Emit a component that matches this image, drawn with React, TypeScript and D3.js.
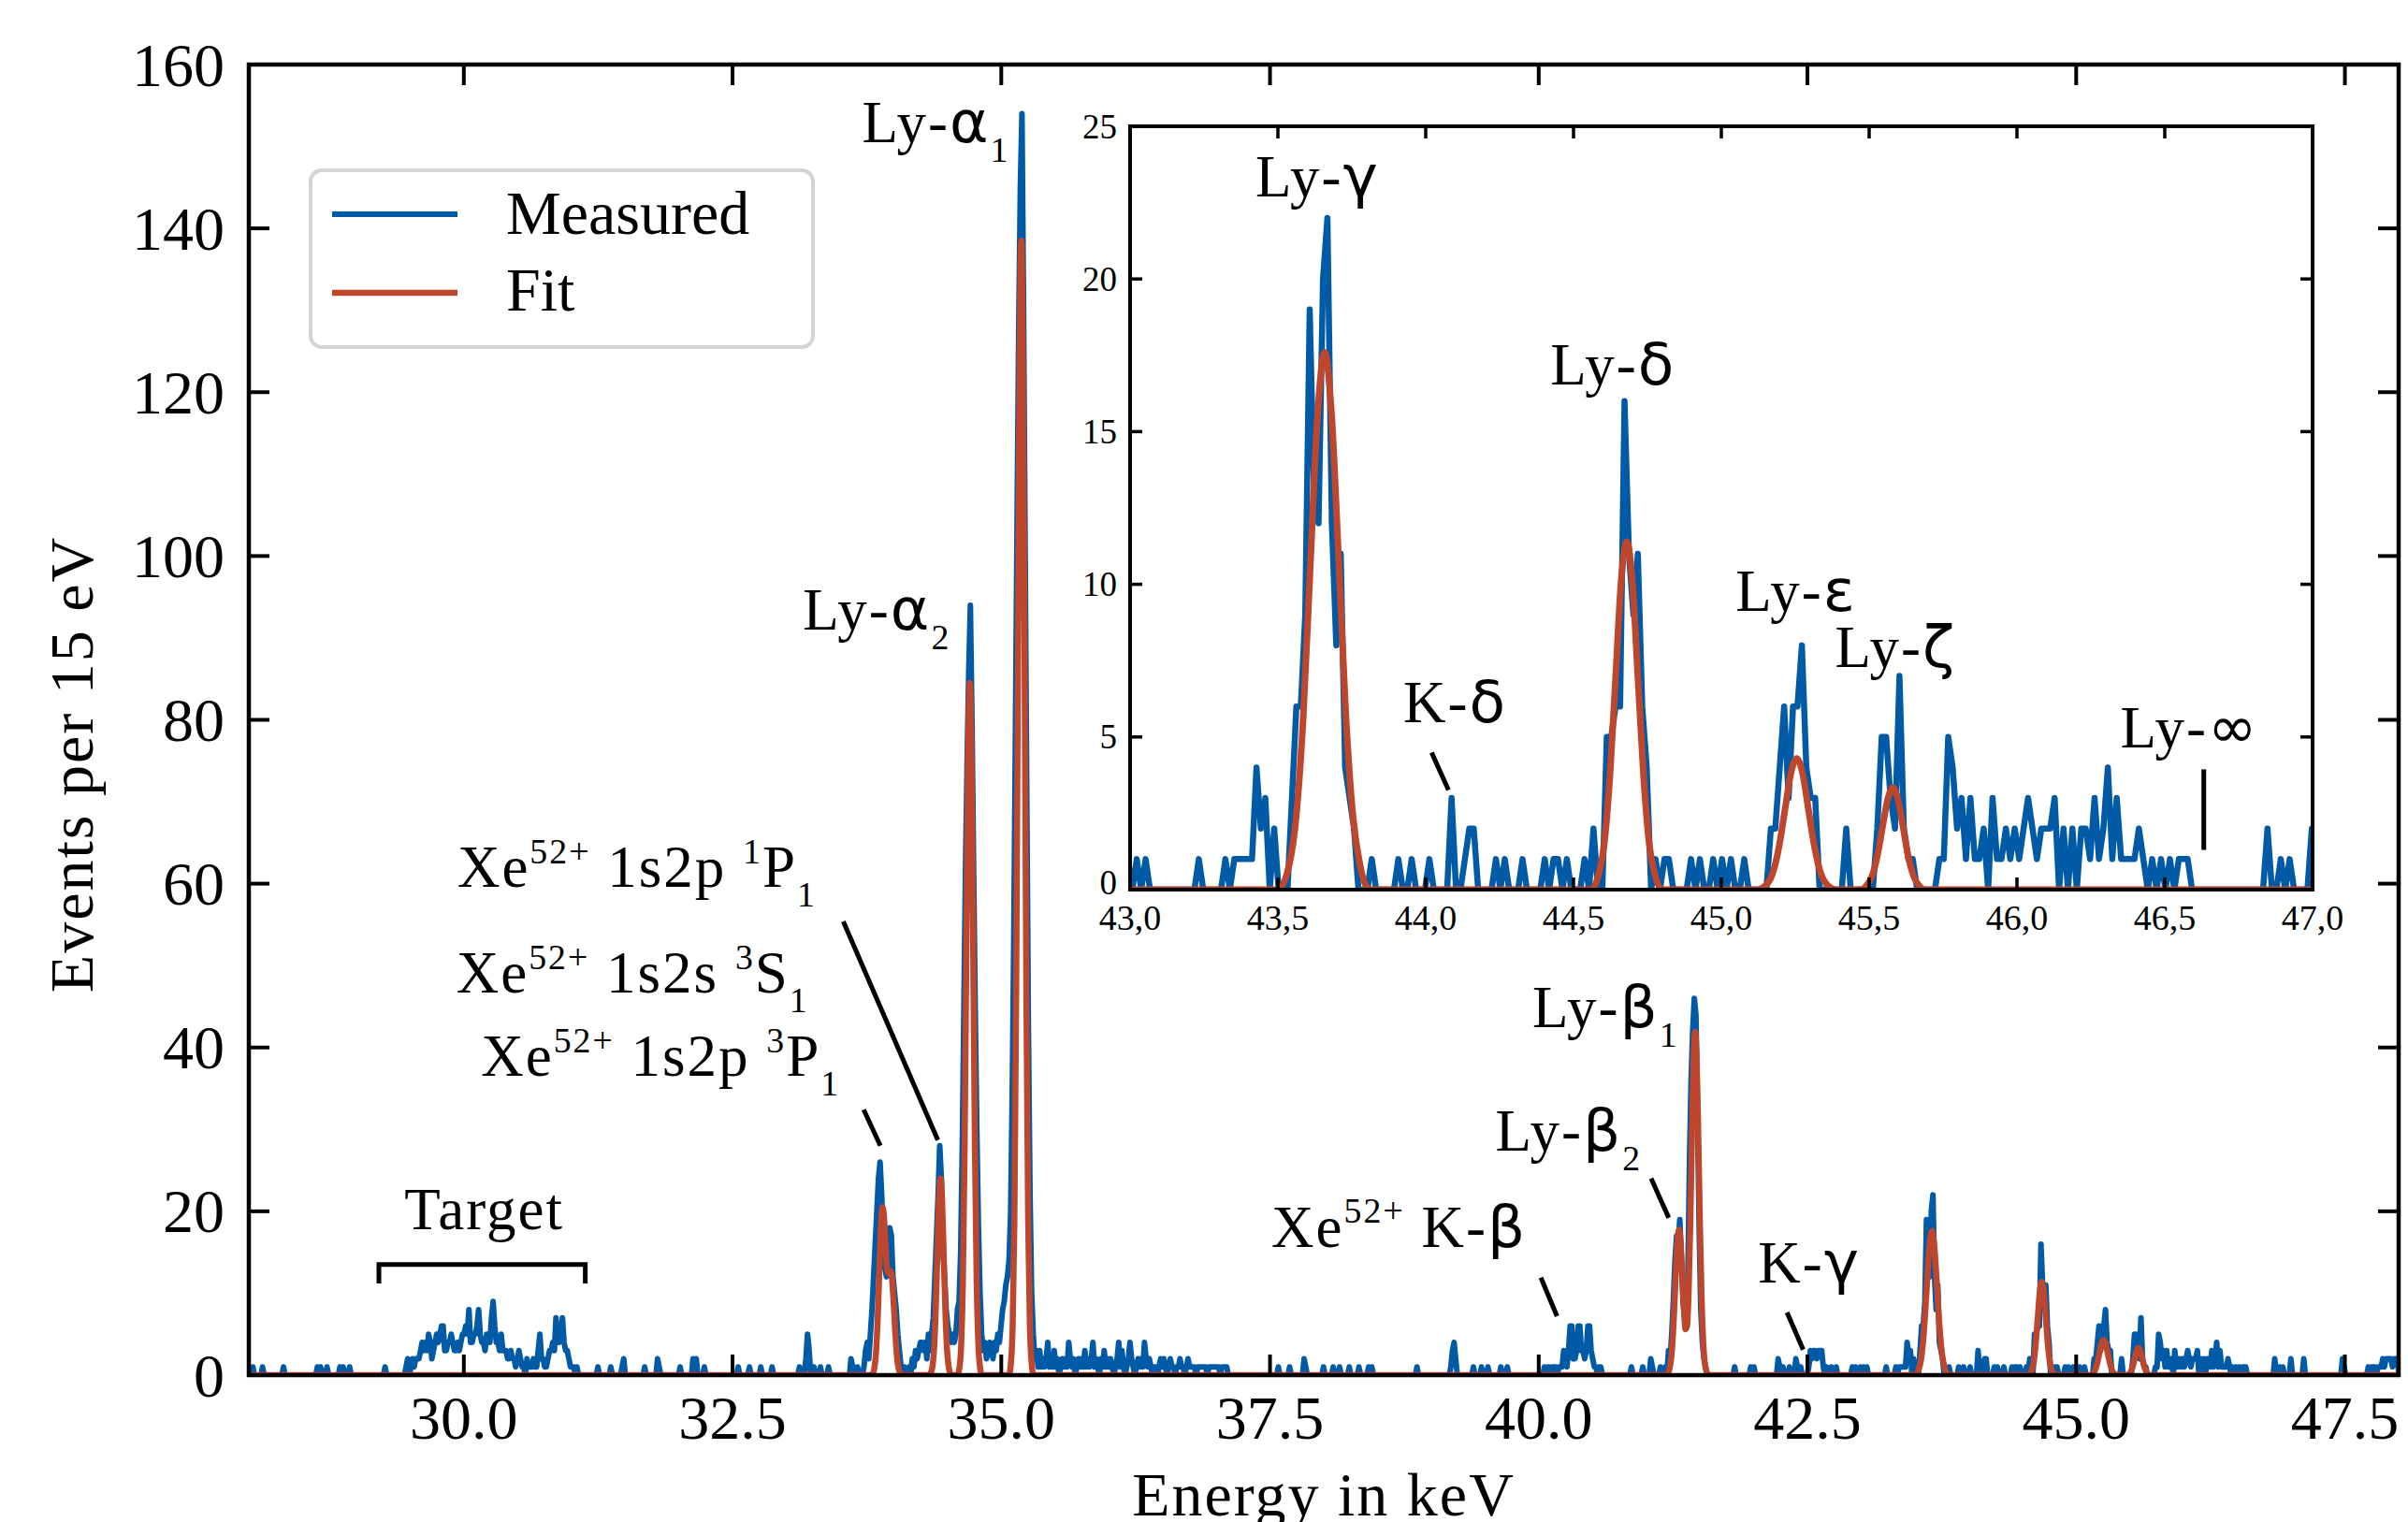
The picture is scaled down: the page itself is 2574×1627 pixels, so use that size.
import React from "react";
import * as d3 from "d3";

const W = 2574;
const H = 1627;
const SERIF = "'Liberation Serif', 'Times New Roman', Times, serif";
const GREEK = "'DejaVu Sans', sans-serif";
const BLUE = "#005aa5";
const RED = "#be462d";

// histogram: 15 eV bins starting at 28 keV
const BIN_ORIGIN = 28;
const BIN_WIDTH = 0.015;
const BIN_COUNT = 1334;

// runs of consecutive bins: [energy of first bin, counts]
const targetRun: [number, number[]] = [29.46, [1,2,0,1,2,1,2,2,2,3,4,3,4,3,5,4,2,3,4,5,4,5,6,6,3,3,4,4,5,4,3,3,4,3,4,5,5,6,5,8,4,4,5,5,6,8,5,4,4,3,5,5,4,7,9,6,4,4,3,5,3,3,3,2,2,3,2,2,1,2,3,2,1,1,0,2,1,1,1,2,1,1,3,5,2,2,1,1,2,3,3,4,3,7,4,4,5,7,4,3,3,2,1,1,1,0,1]];
const heliumAlphaRun: [number, number[]] = [33.705, [0,1,3,4,2,5,8,12,16,20,24,26,22,16,13,12,16,18,17,12,10,8,5,3,1,0,1,0,0,1,0,2,1,3,2,3,4,4,3,4,2,5,3,5,7,12,17,22,28,24,15,12,8,6,5,4,5,4,5,8,9,15,28,45,62,75,86,94,80,62,45,30,18,10,5,3,4,2,3,4,3,2,4,3,5,4,6,8,9,11,12,14,20,35,55,80,105,128,145,154,130,100,70,42,22,10,5,2,3]];
const tailRun: [number, number[]] = [35.34, [1,3,1,2,1,2,4,1,2,1,3,1,2,0,1,2,1,2,1,4,2,1,2,0,1,2,1,2,1,3,1,2,1,2,4,1,2,1,0,2,1,3,1,2,1,2,1,0,1,2,4,1,3,1,0,1,2,4,2,1,0,1,2,1,2,1,4,2,1,2,1,0,1,1,0,1,2,1,2,1,0,1,2,1,1,0,1,1,2,1,1,0,1,2,1,1,1,1,0,1,1,1,1,1,1,0,1,1,1,1,1,1,1,0,1,1,1,1,0]];
const kBetaRun: [number, number[]] = [40.05, [1,0,1,1,0,1,1,1,0,1,1,1,3,2,1,3,6,6,2,2,3,6,6,3,3,2,3,6,6,3,2,1,1,0,1,1,0]];
const lyBetaRun: [number, number[]] = [41.17, [1,0,3,2,5,9,14,17,16,19,14,9,7,6,12,26,36,42,46,44,32,18,8,4,2,1,0]];
const kGammaRun: [number, number[]] = [42.51, [1,3,2,3,3,2,3,3,3,1,0,1]];
const lyGammaRun: [number, number[]] = [43.3225, [1,0,1,1,1,1,1,4,2,3,0,2,0,0,0,3,6,6,9,19,13,12,20,22,12,8,11,4,3,2,0]];
const kDeltaRun: [number, number[]] = [44.0925, [3,0,0,1,2,2,0]];
const preDeltaRun: [number, number[]] = [44.4075, [1,0,1,1,0,1]];
const lyDeltaRun: [number, number[]] = [44.5375, [1,0,2,0,0,5,5,6,6,16,11,9,11,6,4,0]];
const lyEpsilonRun: [number, number[]] = [45.1575, [0,2,2,4,6,3,6,6,8,4,3,3,0]];
const lyZetaRun: [number, number[]] = [45.5175, [0,2,5,5,3,2,7,2,1,1,0]];
const seriesLimitRun: [number, number[]] = [45.7275, [0,1,1,5,4,2,3,1,3,1,1,2,0,3,1,1,2,1,2,1,2,3,2,1,2,2,2,3,0,2,0,2,0,2,2,1,3,1,2,4,1,3,1,1,1,1,2,1,0,1,0,1,0,1,0,1,1,1,0]];
const highEndRun: [number, number[]] = [47.72, [1,0,1,1,1,0,1,1,1,2,1,2,2,2,2,1,2,2,2]];

const measuredRuns = [
  targetRun, heliumAlphaRun, tailRun, kBetaRun, lyBetaRun, kGammaRun, lyGammaRun,
  kDeltaRun, preDeltaRun, lyDeltaRun, lyEpsilonRun, lyZetaRun, seriesLimitRun, highEndRun,
];

// single non-empty bins: [energy, counts]
const measuredSpikes: [number, number][] = [
  [28.01,1],[28.04,1],[28.125,1],[28.32,1],[28.63,1],[28.66,1],[28.725,1],[28.84,1],[28.87,1],[28.94,1],[29.27,1],
  [31.25,1],[31.37,1],[31.47,1],[31.485,2],[31.68,1],[31.795,2],[31.81,1],[32.01,1],[32.125,2],[32.14,1],[32.165,2],
  [32.24,1],[32.55,1],[32.65,1],[32.765,1],[32.865,1],[33.115,1],[33.175,2],[33.19,5],[33.205,3],[33.25,1],[33.31,1],
  [33.385,1],[33.6,2],[33.615,1],[33.66,1],
  [37.57,1],[37.68,1],[37.815,2],[37.83,1],[37.99,1],[38.08,1],[38.14,1],[38.24,1],[38.33,1],[38.42,1],[38.45,1],
  [38.86,1],[39.185,1],[39.2,3],[39.215,4],[39.23,2],[39.39,1],[39.46,1],[39.53,1],[39.64,1],[39.71,1],
  [40.86,1],[40.97,1],[41.04,2],[41.055,1],[41.13,1],
  [41.825,1],[41.97,1],[42.0,1],[42.225,2],[42.24,1],[42.27,1],[42.33,1],[42.39,2],[42.405,1],[42.435,1],
  [42.72,1],[42.77,1],[42.91,1],[42.95,1],[42.99,1],
  [43.0225,1],[43.0525,1],[43.2375,1],[43.8175,1],[43.9075,1],[43.9525,1],[44.0125,1],
  [44.2425,1],[44.2725,1],[44.3325,1],
  [44.7775,1],[44.8075,1],[44.8225,1],[44.9025,1],[44.9325,1],[44.9775,1],[45.0075,1],[45.0375,1],[45.0825,1],
  [45.4175,2],[46.8525,2],[46.8975,1],[46.9275,1],
  [47.0,2],[47.12,2],[47.48,2],[47.495,1],
];

// fit curve: [energy, counts]
const fitPoints: [number, number][] = [
  [28, 0],
  [33.785,0],[33.805,0.2],[33.82,0.9],[33.835,2.8],[33.85,6.7],[33.865,12.4],[33.88,18.1],[33.895,20.5],[33.91,19.2],
  [33.925,15.4],[33.94,12.8],[33.955,12.4],[33.97,12.7],[33.985,11.6],[34.0,8.5],[34.015,4.9],[34.03,2.2],[34.045,0.8],[34.06,0.2],[34.08,0],
  [34.33,0],[34.345,0.27],[34.36,1.05],[34.375,3.2],[34.39,7.8],[34.405,14.6],[34.42,21.2],[34.435,24],[34.45,21.2],
  [34.465,14.6],[34.48,7.8],[34.495,3.2],[34.51,1.05],[34.525,0.27],[34.545,0],
  [34.59,0],[34.611,0.9],[34.627,3.7],[34.643,11.4],[34.659,27.4],[34.675,51.3],[34.691,74.6],[34.707,84.5],
  [34.723,74.6],[34.739,51.3],[34.755,27.4],[34.771,11.4],[34.787,3.7],[34.803,0.9],[34.82,0],
  [35.071,0],[35.09,1.5],[35.106,6.1],[35.122,18.7],[35.138,44.9],[35.154,84],[35.17,121.9],[35.186,138.5],
  [35.202,121.9],[35.218,84],[35.234,44.9],[35.25,18.7],[35.266,6.1],[35.282,1.5],[35.3,0],
  [41.185,0],[41.2,0.2],[41.215,0.65],[41.23,1.8],[41.245,4.1],[41.26,7.8],[41.275,12.3],[41.29,16.2],[41.305,17.8],
  [41.32,16.2],[41.335,12.4],[41.35,8.3],[41.365,5.6],[41.38,6.0],[41.395,10.3],[41.41,18.5],[41.425,29],[41.44,38.2],
  [41.455,41.9],[41.47,38.2],[41.485,29],[41.5,18.3],[41.515,9.6],[41.53,4.2],[41.545,1.5],[41.56,0.5],[41.575,0.1],[41.59,0],
  [43.5,0],[43.538,0.8],[43.562,2.4],[43.586,5.7],[43.61,10.7],[43.634,15.5],[43.658,17.6],[43.682,15.5],[43.706,10.7],
  [43.73,5.7],[43.754,2.4],[43.778,0.8],[43.81,0],
  [44.56,0],[44.585,0.5],[44.604,1.5],[44.623,3.7],[44.642,6.9],[44.661,10.1],[44.68,11.4],[44.699,10.1],[44.718,6.9],
  [44.737,3.7],[44.756,1.5],[44.775,0.5],[44.8,0],
  [45.12,0],[45.155,0.19],[45.175,0.58],[45.195,1.4],[45.215,2.6],[45.235,3.8],[45.255,4.3],[45.275,3.8],[45.295,2.6],
  [45.315,1.4],[45.335,0.58],[45.355,0.19],[45.39,0],
  [45.47,0],[45.4925,0.15],[45.51,0.45],[45.5275,1.09],[45.545,2.03],[45.5625,2.95],[45.58,3.35],[45.5975,2.95],
  [45.615,2.03],[45.6325,1.09],[45.65,0.45],[45.6675,0.15],[45.69,0],
  [48, 0],
];

const mainXTicks = [30, 32.5, 35, 37.5, 40, 42.5, 45, 47.5];
const mainYTicks = [0, 20, 40, 60, 80, 100, 120, 140, 160];
const insetXTicks = [43, 43.5, 44, 44.5, 45, 45.5, 46, 46.5, 47];
const insetYTicks = [0, 5, 10, 15, 20, 25];

type Part = { t: string; greek?: boolean; sub?: boolean; sup?: boolean };
type Note = { e: number; v: number; anchor: string; parts: Part[] };

const mainNotes: Note[] = [
  { e: 35.08, v: 150.5, anchor: "end", parts: [{ t: "Ly-" }, { t: "α", greek: true }, { t: "1", sub: true }] },
  { e: 34.53, v: 91, anchor: "end", parts: [{ t: "Ly-" }, { t: "α", greek: true }, { t: "2", sub: true }] },
  { e: 29.94, v: 59.6, anchor: "start", parts: [{ t: "Xe" }, { t: "52+", sup: true }, { t: " 1s2p " }, { t: "1", sup: true }, { t: "P" }, { t: "1", sub: true }] },
  { e: 29.93, v: 46.7, anchor: "start", parts: [{ t: "Xe" }, { t: "52+", sup: true }, { t: " 1s2s " }, { t: "3", sup: true }, { t: "S" }, { t: "1", sub: true }] },
  { e: 30.16, v: 36.5, anchor: "start", parts: [{ t: "Xe" }, { t: "52+", sup: true }, { t: " 1s2p " }, { t: "3", sup: true }, { t: "P" }, { t: "1", sub: true }] },
  { e: 30.19, v: 17.8, anchor: "middle", parts: [{ t: "Target" }] },
  { e: 41.305, v: 42.5, anchor: "end", parts: [{ t: "Ly-" }, { t: "β", greek: true }, { t: "1", sub: true }] },
  { e: 40.96, v: 27.4, anchor: "end", parts: [{ t: "Ly-" }, { t: "β", greek: true }, { t: "2", sub: true }] },
  { e: 39.89, v: 15.7, anchor: "end", parts: [{ t: "Xe" }, { t: "52+", sup: true }, { t: " K-" }, { t: "β", greek: true }] },
  { e: 42.04, v: 11.3, anchor: "start", parts: [{ t: "K-" }, { t: "γ", greek: true }] },
];

const mainLeaders: [number, number][][] = [
  [[33.53, 55.4], [34.41, 28.7]],
  [[33.72, 32.4], [33.875, 28.0]],
  [[41.046, 24.0], [41.21, 19.2]],
  [[40.02, 11.9], [40.17, 7.2]],
  [[42.31, 7.65], [42.46, 3.1]],
  [[29.21, 11.2], [29.21, 13.5], [31.13, 13.5], [31.13, 11.2]],
];

const insetNotes: Note[] = [
  { e: 43.634, v: 22.7, anchor: "middle", parts: [{ t: "Ly-" }, { t: "γ", greek: true }] },
  { e: 44.634, v: 16.55, anchor: "middle", parts: [{ t: "Ly-" }, { t: "δ", greek: true }] },
  { e: 44.1, v: 5.47, anchor: "middle", parts: [{ t: "K-" }, { t: "δ", greek: true }] },
  { e: 45.253, v: 9.12, anchor: "middle", parts: [{ t: "Ly-" }, { t: "ε", greek: true }] },
  { e: 45.59, v: 7.3, anchor: "middle", parts: [{ t: "Ly-" }, { t: "ζ", greek: true }] },
  { e: 46.584, v: 4.67, anchor: "middle", parts: [{ t: "Ly-" }, { t: "∞", greek: true }] },
];

const insetLeaders: [number, number][][] = [
  [[44.02, 4.49], [44.077, 3.26]],
  [[46.632, 3.94], [46.632, 1.3]],
];

function buildMeasured(): [number, number][] {
  const counts = new Array(BIN_COUNT).fill(0);
  const idx = (e: number) => Math.floor((e - BIN_ORIGIN) / BIN_WIDTH + 1e-6);
  measuredSpikes.forEach(([e, c]) => { counts[idx(e)] = c; });
  measuredRuns.forEach(([e, cs]) => {
    const i0 = idx(e);
    cs.forEach((c, k) => { counts[i0 + k] = c; });
  });
  return counts.map((c, i) => [BIN_ORIGIN + (i + 0.5) * BIN_WIDTH, c] as [number, number]);
}

function RichText({ x, y, anchor, parts, size, spacing }: { x: number; y: number; anchor: string; parts: Part[]; size: number; spacing: number }) {
  let offset = 0;
  return (
    <text x={x} y={y} textAnchor={anchor} fontSize={size} fontFamily={SERIF} letterSpacing={spacing} style={{ whiteSpace: "pre" }}>
      {parts.map((p, i) => {
        const target = p.sub ? size * 0.33 : p.sup ? -size * 0.4 : 0;
        const dy = target - offset;
        offset = target;
        return (
          <tspan key={i} dy={dy} fontSize={p.sub || p.sup ? size * 0.6 : size} fontFamily={p.greek ? GREEK : SERIF}>
            {p.t}
          </tspan>
        );
      })}
    </text>
  );
}

export default function App() {
  const measured = buildMeasured();

  const x = d3.scaleLinear().domain([28, 48]).range([266, 2564]);
  const y = d3.scaleLinear().domain([0, 160]).range([1470, 69]);
  const xi = d3.scaleLinear().domain([43, 47]).range([1208, 2472]);
  const yi = d3.scaleLinear().domain([0, 25]).range([951, 135]);

  const mainMeasured = d3.line<[number, number]>().x((d) => x(d[0])).y((d) => y(d[1]));
  const mainFit = d3.line<[number, number]>().x((d) => x(d[0])).y((d) => y(d[1])).curve(d3.curveMonotoneX);
  const insetMeasured = d3.line<[number, number]>().x((d) => xi(d[0])).y((d) => yi(d[1]));
  const insetFit = d3.line<[number, number]>().x((d) => xi(d[0])).y((d) => yi(d[1])).curve(d3.curveMonotoneX);
  const plain = d3.line<[number, number]>();

  const [mx0, mx1] = x.range();
  const [my0, my1] = y.range();
  const [ix0, ix1] = xi.range();
  const [iy0, iy1] = yi.range();

  const TICK = 22;
  const ITICK = 13;

  return (
    <svg width={W} height={H} viewBox={`0 0 ${W} ${H}`} style={{ position: "absolute", left: 0, top: 0, background: "#fff" }}>
      <defs>
        <clipPath id="main-clip">
          <rect x={mx0} y={my1} width={mx1 - mx0} height={my0 - my1} />
        </clipPath>
        <clipPath id="inset-clip">
          <rect x={ix0} y={iy1} width={ix1 - ix0} height={iy0 - iy1} />
        </clipPath>
      </defs>
      <rect x={0} y={0} width={W} height={H} fill="#fff" />

      {/* main spectrum */}
      <g clipPath="url(#main-clip)">
        <path d={mainMeasured(measured) || ""} fill="none" stroke={BLUE} strokeWidth={6} strokeLinejoin="round" />
        <path d={mainFit(fitPoints) || ""} fill="none" stroke={RED} strokeWidth={6.5} strokeLinejoin="round" />
      </g>

      {/* main frame and ticks */}
      <rect x={mx0} y={my1} width={mx1 - mx0} height={my0 - my1} fill="none" stroke="#000" strokeWidth={4.5} />
      {mainXTicks.map((t) => (
        <g key={`mx${t}`}>
          <line x1={x(t)} x2={x(t)} y1={my0} y2={my0 - TICK} stroke="#000" strokeWidth={4} />
          <line x1={x(t)} x2={x(t)} y1={my1} y2={my1 + TICK} stroke="#000" strokeWidth={4} />
          <text x={x(t)} y={1538} textAnchor="middle" fontSize={66} fontFamily={SERIF}>
            {d3.format(".1f")(t)}
          </text>
        </g>
      ))}
      {mainYTicks.map((t) => (
        <g key={`my${t}`}>
          <line x1={mx0} x2={mx0 + TICK} y1={y(t)} y2={y(t)} stroke="#000" strokeWidth={4} />
          <line x1={mx1} x2={mx1 - TICK} y1={y(t)} y2={y(t)} stroke="#000" strokeWidth={4} />
          <text x={240} y={y(t)} textAnchor="end" dominantBaseline="central" fontSize={66} fontFamily={SERIF}>
            {t}
          </text>
        </g>
      ))}
      <text x={(mx0 + mx1) / 2} y={1620} textAnchor="middle" fontSize={66} fontFamily={SERIF} letterSpacing={2}>
        Energy in keV
      </text>
      <text transform="translate(99,817) rotate(-90)" textAnchor="middle" fontSize={66} fontFamily={SERIF} letterSpacing={2}>
        Events per 15 eV
      </text>

      {/* main annotations */}
      {mainLeaders.map((pts, i) => (
        <path key={`ml${i}`} d={plain(pts.map(([e, v]) => [x(e), y(v)] as [number, number])) || ""} fill="none" stroke="#000" strokeWidth={5} />
      ))}
      {mainNotes.map((n, i) => (
        <RichText key={`mn${i}`} x={x(n.e)} y={y(n.v)} anchor={n.anchor} parts={n.parts} size={63} spacing={2} />
      ))}

      {/* legend */}
      <g>
        <rect x={332} y={182} width={537} height={189} rx={12} fill="#fff" stroke="#d4d4d4" strokeWidth={4} />
        <line x1={355} x2={489} y1={229} y2={229} stroke={BLUE} strokeWidth={6} />
        <line x1={355} x2={489} y1={313} y2={313} stroke={RED} strokeWidth={6.5} />
        <text x={541} y={250} fontSize={66} fontFamily={SERIF}>Measured</text>
        <text x={541} y={332} fontSize={66} fontFamily={SERIF}>Fit</text>
      </g>

      {/* inset */}
      <rect x={ix0} y={iy1} width={ix1 - ix0} height={iy0 - iy1} fill="#fff" />
      <g clipPath="url(#inset-clip)">
        <path d={insetMeasured(measured) || ""} fill="none" stroke={BLUE} strokeWidth={6.5} strokeLinejoin="round" />
        <path d={insetFit(fitPoints) || ""} fill="none" stroke={RED} strokeWidth={7} strokeLinejoin="round" />
      </g>
      <rect x={ix0} y={iy1} width={ix1 - ix0} height={iy0 - iy1} fill="none" stroke="#000" strokeWidth={4} />
      {insetXTicks.map((t) => (
        <g key={`ix${t}`}>
          <line x1={xi(t)} x2={xi(t)} y1={iy0} y2={iy0 - ITICK} stroke="#000" strokeWidth={3.5} />
          <line x1={xi(t)} x2={xi(t)} y1={iy1} y2={iy1 + ITICK} stroke="#000" strokeWidth={3.5} />
          <text x={xi(t)} y={994} textAnchor="middle" fontSize={38} fontFamily={SERIF}>
            {d3.format(".1f")(t).replace(".", ",")}
          </text>
        </g>
      ))}
      {insetYTicks.map((t) => (
        <g key={`iy${t}`}>
          <line x1={ix0} x2={ix0 + ITICK} y1={yi(t)} y2={yi(t)} stroke="#000" strokeWidth={3.5} />
          <line x1={ix1} x2={ix1 - ITICK} y1={yi(t)} y2={yi(t)} stroke="#000" strokeWidth={3.5} />
          <text x={1194} y={t === 0 ? yi(t) - 8 : yi(t)} textAnchor="end" dominantBaseline="central" fontSize={37} fontFamily={SERIF}>
            {t}
          </text>
        </g>
      ))}
      {insetLeaders.map((pts, i) => (
        <path key={`il${i}`} d={plain(pts.map(([e, v]) => [xi(e), yi(v)] as [number, number])) || ""} fill="none" stroke="#000" strokeWidth={5} />
      ))}
      {insetNotes.map((n, i) => (
        <RichText key={`in${i}`} x={xi(n.e)} y={yi(n.v)} anchor={n.anchor} parts={n.parts} size={63} spacing={2} />
      ))}
    </svg>
  );
}
